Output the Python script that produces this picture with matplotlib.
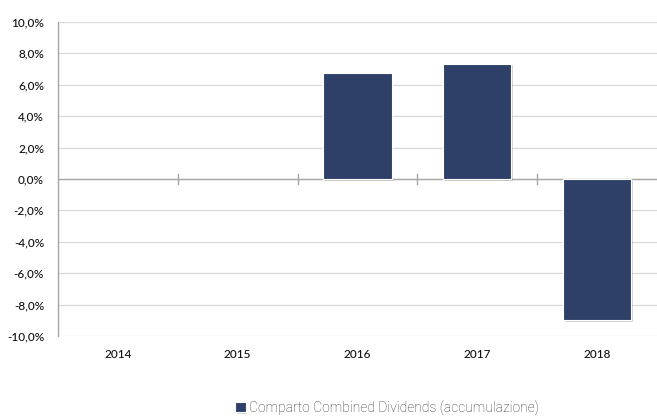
import matplotlib
matplotlib.use("Agg")
import matplotlib.pyplot as plt
import matplotlib.patheffects as pe
from matplotlib.ticker import FuncFormatter, FixedLocator

years = ["2014", "2015", "2016", "2017", "2018"]
values = [None, None, 6.75, 7.35, -9.0]
series_name = "Comparto Combined Dividends (accumulazione)"

plt.rcParams['font.family'] = ['Lato', 'DejaVu Sans']

fig = plt.figure(figsize=(6.57, 4.19), dpi=100)
ax = fig.add_axes([58/657, 83/419, 1 - 58/657, (336-22)/419])

xs = [i for i, v in enumerate(values) if v is not None]
vs = [v for v in values if v is not None]
bars = ax.bar(xs, vs, width=0.57, color="#2E4068", edgecolor="white", linewidth=0.8,
              zorder=3, label=series_name)
for b in bars:
    b.set_path_effects([pe.SimplePatchShadow(offset=(1.2, -1.2), shadow_rgbFace="#999999", alpha=0.45), pe.Normal()])

ax.set_xlim(-0.5, len(years) - 0.5)
ax.set_ylim(-10, 10)
ax.yaxis.set_major_locator(FixedLocator(range(-10, 11, 2)))
ax.yaxis.set_major_formatter(FuncFormatter(lambda v, p: f"{v:.1f}%".replace(".", ",")))
ax.grid(axis="y", color="#d9d9d9", linewidth=0.9, zorder=0)
ax.set_axisbelow(True)

ax.set_xticks(range(len(years)))
ax.set_xticklabels(years)
ax.tick_params(axis="x", length=0, pad=9, labelsize=8.5, colors="#111111")
ax.tick_params(axis="y", length=0, pad=10, labelsize=8.5, colors="#111111")
for lab in ax.get_xticklabels() + ax.get_yticklabels():
    lab.set_fontweight("medium")

for s in ["top", "right", "bottom"]:
    ax.spines[s].set_visible(False)
ax.spines["left"].set_color("#a6a6a6")
ax.spines["left"].set_linewidth(1.0)

ax.axhline(0, color="#a6a6a6", linewidth=1.0, zorder=2)
for i in range(1, len(years)):
    ax.plot([i - 0.5, i - 0.5], [-0.3, 0.3], color="#a6a6a6", linewidth=1.0, zorder=2, clip_on=False)

leg = fig.legend(handles=[bars], labels=[series_name], loc="center", bbox_to_anchor=(387/657, 1 - 408/419),
                 frameon=False, handlelength=0.75, handleheight=0.75, handletextpad=0.25,
                 prop={"family": ["Roboto", "DejaVu Sans"], "size": 10, "weight": "light"})
for t in leg.get_texts():
    t.set_color("#333333")

fig.savefig("out.png", dpi=100)
